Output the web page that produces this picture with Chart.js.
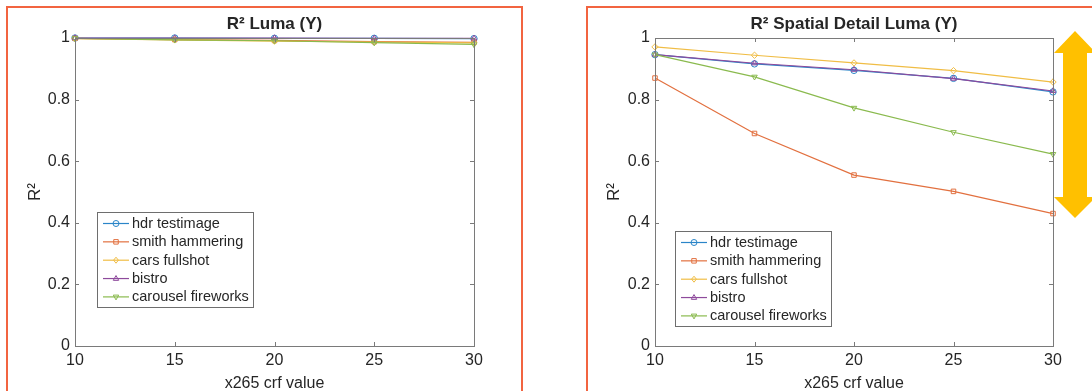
<!DOCTYPE html>
<html>
<head>
<meta charset="utf-8">
<script src="https://cdn.jsdelivr.net/npm/chart.js@4.4.1/dist/chart.umd.min.js"></script>
<style>
  html, body { margin: 0; padding: 0; background: #fff; }
  body { width: 1092px; height: 391px; overflow: hidden; position: relative; }
  .frame { position: absolute; top: 6px; height: 420px; border: 2px solid #f26440; box-sizing: border-box; }
  .wrap { position: absolute; top: 0; width: 546px; height: 420px; }
  #arrow { position: absolute; left: 0; top: 0; }
</style>
</head>
<body>
<div class="frame" style="left:6px;width:517px"></div>
<div class="frame" style="left:586px;width:600px"></div>
<div class="wrap" style="left:0"><canvas id="luma" width="546" height="420" style="width:546px;height:420px"></canvas></div>
<div class="wrap" style="left:546px"><canvas id="detail" width="546" height="420" style="width:546px;height:420px"></canvas></div>
<svg id="arrow" width="1092" height="391">
  <polygon points="1075,31 1096,53 1087,53 1087,197 1096,197 1075,218 1054,197 1063,197 1063,53 1054,53" fill="#FFC000"/>
</svg>
<script>
// x265 crf values (x axis)
var crfValues = [10, 15, 20, 25, 30];
var xTickValues = [10, 15, 20, 25, 30];
var yTickLabels = ['0', '0.2', '0.4', '0.6', '0.8', '1'];
var seriesNames = ['hdr testimage', 'smith hammering', 'cars fullshot', 'bistro', 'carousel fireworks'];

// R^2 Luma (Y)
var lumaHdr = [1.000, 1.000, 0.999, 0.999, 0.998];
var lumaSmith = [0.999, 0.995, 0.992, 0.988, 0.986];
var lumaCars = [0.998, 0.994, 0.990, 0.987, 0.984];
var lumaBistro = [1.000, 1.000, 1.000, 0.999, 0.999];
var lumaCarousel = [0.999, 0.994, 0.991, 0.985, 0.979];

// R^2 Spatial Detail Luma (Y)
var detailHdr = [0.946, 0.916, 0.895, 0.869, 0.825];
var detailSmith = [0.870, 0.690, 0.555, 0.502, 0.430];
var detailCars = [0.971, 0.944, 0.919, 0.894, 0.857];
var detailBistro = [0.946, 0.918, 0.897, 0.868, 0.828];
var detailCarousel = [0.946, 0.874, 0.773, 0.694, 0.623];

// matlab default colour order (a bit washed out like the screenshot) and markers
var lineColors = ['#2a85c8', '#e2703f', '#f0bd45', '#8e4a9c', '#8aba4e'];
var markers = ['circle', 'rect', 'rectRot', 'triangle', 'triangle'];
var markerRot = [0, 0, 0, 0, 180];

var textColor = '#262626';
var axisColor = '#7a7a7a';
var fontFamily = '"Liberation Sans", Arial, sans-serif';

function makeDatasets(seriesList) {
    return seriesList.map(function (vals, i) {
        return {
            label: seriesNames[i],
            data: crfValues.map(function (x, j) { return { x: x, y: vals[j] }; }),
            borderColor: lineColors[i],
            backgroundColor: 'rgba(0,0,0,0)',
            pointBackgroundColor: 'rgba(0,0,0,0)',
            pointBorderColor: lineColors[i],
            borderWidth: 1.2,
            pointRadius: 3.2,
            pointBorderWidth: 1,
            pointStyle: markers[i],
            pointRotation: markerRot[i],
            tension: 0,
            clip: false,
            order: seriesList.length - i  // later series on top, like matlab
        };
    });
}

function drawLegendMarker(ctx, style, rot, x, y, r) {
    ctx.beginPath();
    if (style === 'circle') {
        ctx.arc(x, y, r, 0, Math.PI * 2);
    } else if (style === 'rect') {
        ctx.rect(x - r * 0.75, y - r * 0.75, r * 1.5, r * 1.5);
    } else if (style === 'rectRot') {
        ctx.moveTo(x, y - r); ctx.lineTo(x + r * 0.8, y); ctx.lineTo(x, y + r); ctx.lineTo(x - r * 0.8, y); ctx.closePath();
    } else {
        var s = rot ? -1 : 1;
        ctx.moveTo(x, y - s * r); ctx.lineTo(x + r * 0.9, y + s * r * 0.6); ctx.lineTo(x - r * 0.9, y + s * r * 0.6); ctx.closePath();
    }
    ctx.stroke();
}

// title, boxed axes with inward ticks, legend inside the axes
var panelPlugin = {
    id: 'panel',
    afterDatasetsDraw: function (chart) {
        var ctx = chart.ctx, a = chart.chartArea;
        var xs = chart.scales.x, ys = chart.scales.y;
        ctx.save();
        ctx.strokeStyle = axisColor;
        ctx.lineWidth = 1;
        ctx.strokeRect(Math.round(a.left) + 0.5, Math.round(a.top) + 0.5, Math.round(a.right - a.left), Math.round(a.bottom - a.top));
        ctx.beginPath();
        xs.ticks.forEach(function (t) {
            var px = Math.round(xs.getPixelForValue(t.value)) + 0.5;
            ctx.moveTo(px, a.bottom); ctx.lineTo(px, a.bottom - 4);
            ctx.moveTo(px, a.top); ctx.lineTo(px, a.top + 4);
        });
        ys.ticks.forEach(function (t) {
            var py = Math.round(ys.getPixelForValue(t.value)) + 0.5;
            ctx.moveTo(a.left, py); ctx.lineTo(a.left + 4, py);
            ctx.moveTo(a.right, py); ctx.lineTo(a.right - 4, py);
        });
        ctx.stroke();
        ctx.restore();
    },
    afterDraw: function (chart, args, opts) {
        var ctx = chart.ctx, a = chart.chartArea;
        ctx.save();
        // title
        ctx.fillStyle = textColor;
        ctx.font = 'bold 17px ' + fontFamily;
        ctx.textAlign = 'center';
        ctx.textBaseline = 'middle';
        ctx.fillText(opts.title, (a.left + a.right) / 2, 24);

        // legend
        var lx = a.left + opts.legendDx, ly = opts.legendTop;
        var w = 156, h = 95;
        ctx.fillStyle = '#fff';
        ctx.fillRect(lx, ly, w, h);
        ctx.strokeStyle = '#6e6e6e';
        ctx.lineWidth = 1;
        ctx.strokeRect(lx + 0.5, ly + 0.5, w, h);
        ctx.font = '14.5px ' + fontFamily;
        ctx.textAlign = 'left';
        chart.data.datasets.forEach(function (ds, i) {
            var y = ly + 11.5 + i * 18.35;
            ctx.strokeStyle = ds.borderColor;
            ctx.lineWidth = 1.2;
            ctx.beginPath();
            ctx.moveTo(lx + 6, y); ctx.lineTo(lx + 32, y);
            ctx.stroke();
            ctx.lineWidth = 1;
            drawLegendMarker(ctx, ds.pointStyle, ds.pointRotation, lx + 19, y, 3);
            ctx.fillStyle = textColor;
            ctx.fillText(ds.label, lx + 35, y + 0.5);
        });
        ctx.restore();
    }
};

function makeChart(canvasId, seriesList, title, yAxisWidth, rightPad, yTitlePad, legendDx, legendTop) {
    return new Chart(document.getElementById(canvasId), {
        type: 'line',
        data: { datasets: makeDatasets(seriesList) },
        plugins: [panelPlugin],
        options: {
            responsive: false,
            animation: false,
            devicePixelRatio: 1,
            layout: { padding: { left: 0, right: rightPad, top: 38, bottom: 0 } },
            plugins: {
                legend: { display: false },
                tooltip: { enabled: false },
                title: { display: false },
                panel: { title: title, legendDx: legendDx, legendTop: legendTop }
            },
            scales: {
                x: {
                    type: 'linear',
                    min: 10,
                    max: 30,
                    afterBuildTicks: function (scale) {
                        scale.ticks = xTickValues.map(function (v) { return { value: v }; });
                    },
                    afterFit: function (scale) { scale.height = 74; },
                    grid: { display: false, drawTicks: false },
                    border: { display: false },
                    ticks: {
                        color: textColor,
                        padding: 5,
                        maxRotation: 0,
                        font: { family: fontFamily, size: 16 }
                    },
                    title: {
                        display: true,
                        text: 'x265 crf value',
                        color: textColor,
                        padding: { top: 0, bottom: 27 },
                        font: { family: fontFamily, size: 16 }
                    }
                },
                y: {
                    type: 'linear',
                    min: 0,
                    max: 1,
                    afterBuildTicks: function (scale) {
                        scale.ticks = yTickLabels.map(function (l) { return { value: parseFloat(l) }; });
                    },
                    afterFit: function (scale) { scale.width = yAxisWidth; },
                    grid: { display: false, drawTicks: false },
                    border: { display: false },
                    ticks: {
                        color: textColor,
                        padding: 5,
                        font: { family: fontFamily, size: 16 },
                        callback: function (v, i) { return yTickLabels[i]; }
                    },
                    title: {
                        display: true,
                        text: 'R²',
                        color: textColor,
                        padding: { top: yTitlePad, bottom: 0 },
                        font: { family: fontFamily, size: 17 }
                    }
                }
            }
        }
    });
}

makeChart('luma', [lumaHdr, lumaSmith, lumaCars, lumaBistro, lumaCarousel],
    'R² Luma (Y)', 75, 72, 25, 22, 212);
makeChart('detail', [detailHdr, detailSmith, detailCars, detailBistro, detailCarousel],
    'R² Spatial Detail Luma (Y)', 109, 39, 58, 20, 231);
</script>
</body>
</html>
